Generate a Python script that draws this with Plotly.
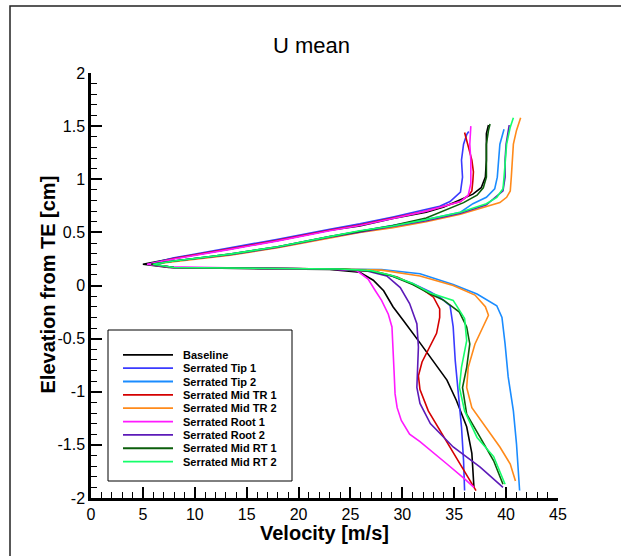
import plotly.graph_objects as go

# ---------------- data ----------------
series_names = ["Baseline", "Serrated Tip 1", "Serrated Tip 2", "Serrated Mid TR 1",
                "Serrated Mid TR 2", "Serrated Root 1", "Serrated Root 2",
                "Serrated Mid RT 1", "Serrated Mid RT 2"]
series_colors = ["#000000", "#3a3aff", "#1a8cff", "#d40000", "#ff8a1a",
                 "#ff1aff", "#5c1ab8", "#0b5e0b", "#14ff6a"]

baseline_u = [36.9, 36.7, 36.2, 35.2, 34.3, 33.0, 31.7, 30.1, 29.1, 28.2, 27.2, 25.9, 23.0, 18.0, 12.0, 7.5, 5.0,
              8.0, 13.4, 18.0, 23.0, 25.9, 29.1, 32.3, 34.0, 35.6, 36.8, 37.6, 38.0, 38.1, 38.1, 38.3]
baseline_y = [-1.90, -1.58, -1.33, -1.08, -0.89, -0.71, -0.54, -0.33, -0.20, -0.05, 0.05, 0.125, 0.15, 0.155, 0.16, 0.17, 0.20,
              0.255, 0.345, 0.425, 0.52, 0.56, 0.63, 0.69, 0.74, 0.81, 0.86, 0.92, 1.02, 1.18, 1.43, 1.51]

tip1_u = [36.0, 35.9, 35.7, 35.4, 35.1, 34.9, 34.6, 33.6, 32.7, 31.0, 29.0, 27.0, 24.0, 18.0, 12.0, 7.8, 5.5,
          8.0, 13.4, 18.0, 23.0, 25.9, 29.1, 32.3, 33.6, 34.6, 35.2, 35.6, 35.8, 35.7, 35.9, 36.2, 36.4]
tip1_y = [-1.93, -1.65, -1.33, -1.02, -0.71, -0.39, -0.19, -0.11, -0.06, 0.02, 0.09, 0.135, 0.155, 0.16, 0.165, 0.17, 0.20,
          0.26, 0.355, 0.435, 0.53, 0.58, 0.645, 0.712, 0.745, 0.79, 0.84, 0.88, 1.02, 1.18, 1.33, 1.42, 1.45]

tip2_u = [41.3, 41.0, 40.7, 40.2, 39.9, 39.6, 39.1, 37.2, 34.9, 31.7, 28.0, 24.0, 18.0, 12.0, 8.0, 5.8,
          8.0, 13.4, 18.0, 23.0, 25.9, 29.1, 32.3, 35.6, 36.8, 38.1, 38.9, 39.15, 39.25, 39.4, 39.8]
tip2_y = [-1.93, -1.49, -1.18, -0.86, -0.55, -0.30, -0.19, -0.08, 0.01, 0.11, 0.15, 0.155, 0.16, 0.165, 0.17, 0.20,
          0.23, 0.295, 0.365, 0.46, 0.51, 0.56, 0.62, 0.69, 0.77, 0.83, 0.91, 1.02, 1.18, 1.33, 1.47]

midtr1_u = [37.1, 35.2, 33.65, 32.5, 31.7, 31.55, 31.9, 32.6, 33.3, 33.6, 33.6, 33.0, 31.7, 29.5, 27.5, 24.0, 18.0, 12.0, 7.8, 5.6,
            8.0, 13.4, 18.0, 23.0, 25.9, 29.1, 32.3, 34.0, 35.6, 36.4, 36.7, 36.8, 36.85, 36.7, 36.35, 36.2, 36.0]
midtr1_y = [-1.93, -1.62, -1.38, -1.18, -0.98, -0.85, -0.72, -0.58, -0.45, -0.30, -0.22, -0.11, -0.02, 0.08, 0.13, 0.155, 0.16, 0.165, 0.17, 0.20,
            0.255, 0.345, 0.425, 0.52, 0.57, 0.635, 0.70, 0.745, 0.79, 0.85, 0.89, 0.99, 1.07, 1.18, 1.30, 1.36, 1.44]

midtr2_u = [40.9, 40.4, 39.4, 37.8, 36.7, 36.2, 36.35, 37.0, 37.8, 38.3, 38.0, 37.0, 34.9, 31.7, 28.0, 24.0, 18.0, 12.0, 8.0, 5.9,
            8.0, 13.4, 18.0, 23.0, 25.9, 29.1, 32.3, 35.6, 38.1, 39.4, 40.05, 40.4, 40.5, 40.6, 40.7, 41.0, 41.4]
midtr2_y = [-1.84, -1.68, -1.52, -1.30, -1.15, -0.96, -0.77, -0.55, -0.39, -0.28, -0.20, -0.09, 0.0, 0.09, 0.145, 0.155, 0.16, 0.165, 0.17, 0.20,
            0.225, 0.285, 0.355, 0.45, 0.50, 0.545, 0.60, 0.67, 0.74, 0.78, 0.83, 0.89, 1.02, 1.18, 1.33, 1.46, 1.58]

root1_u = [36.9, 36.0, 34.3, 32.7, 31.7, 30.7, 29.9, 29.5, 29.3, 29.2, 29.1, 29.0, 28.65, 28.0, 27.4, 26.7, 25.6, 23.0, 18.0, 12.0, 7.6, 5.4,
           8.0, 13.4, 18.0, 23.0, 25.9, 29.1, 32.3, 34.0, 35.6, 36.35, 36.6, 36.6, 36.5, 36.6]
root1_y = [-1.90, -1.82, -1.68, -1.55, -1.47, -1.40, -1.27, -1.15, -1.02, -0.80, -0.58, -0.39, -0.27, -0.14, -0.05, 0.06, 0.14, 0.155, 0.16, 0.165, 0.175, 0.20,
           0.25, 0.34, 0.42, 0.515, 0.565, 0.63, 0.70, 0.745, 0.79, 0.85, 0.96, 1.18, 1.33, 1.50]

root2_u = [39.7, 37.5, 34.9, 32.7, 31.7, 31.4, 31.55, 31.4, 30.7, 29.8, 28.5, 26.5, 23.0, 18.0, 12.0, 8.0, 5.8,
           8.0, 13.4, 18.0, 23.0, 25.9, 29.1, 32.3, 35.6, 38.1, 39.7, 39.9, 39.9, 40.0, 40.3]
root2_y = [-1.90, -1.71, -1.52, -1.30, -1.11, -0.96, -0.58, -0.36, -0.17, -0.02, 0.09, 0.14, 0.155, 0.16, 0.165, 0.17, 0.20,
           0.23, 0.29, 0.36, 0.455, 0.505, 0.555, 0.61, 0.68, 0.76, 0.89, 1.02, 1.18, 1.33, 1.51]

midrt1_u = [39.7, 38.8, 37.5, 36.2, 35.8, 36.2, 36.5, 36.2, 35.5, 34.0, 32.7, 31.0, 29.0, 27.0, 24.0, 18.0, 12.0, 8.0, 5.8,
            8.0, 13.4, 18.0, 23.0, 25.9, 29.1, 32.3, 34.0, 35.9, 37.2, 37.8, 38.1, 38.1, 38.1, 38.3, 38.45]
midrt1_y = [-1.87, -1.65, -1.43, -1.21, -0.96, -0.77, -0.55, -0.39, -0.25, -0.14, -0.08, 0.01, 0.09, 0.135, 0.155, 0.16, 0.165, 0.17, 0.20,
            0.23, 0.295, 0.365, 0.46, 0.51, 0.565, 0.635, 0.70, 0.78, 0.85, 0.92, 1.02, 1.18, 1.33, 1.46, 1.52]

midrt2_u = [39.9, 38.8, 37.2, 36.0, 35.5, 35.7, 36.2, 36.0, 34.9, 32.7, 31.0, 29.0, 27.0, 24.0, 18.0, 12.0, 8.0, 6.0,
            8.0, 13.4, 18.0, 23.0, 25.9, 29.1, 32.3, 35.6, 38.1, 39.1, 39.7, 39.8, 39.9, 40.05, 40.4, 40.7]
midrt2_y = [-1.87, -1.61, -1.43, -1.18, -0.96, -0.77, -0.52, -0.31, -0.14, -0.07, 0.02, 0.095, 0.14, 0.155, 0.16, 0.165, 0.17, 0.20,
            0.23, 0.295, 0.365, 0.46, 0.515, 0.56, 0.62, 0.69, 0.77, 0.83, 0.91, 1.02, 1.18, 1.33, 1.49, 1.58]

series_u = [baseline_u, tip1_u, tip2_u, midtr1_u, midtr2_u, root1_u, root2_u, midrt1_u, midrt2_u]
series_y = [baseline_y, tip1_y, tip2_y, midtr1_y, midtr2_y, root1_y, root2_y, midrt1_y, midrt2_y]

x_tickvals = [0, 5, 10, 15, 20, 25, 30, 35, 40, 45]
x_ticktext = ["0", "5", "10", "15", "20", "25", "30", "35", "40", "45"]
y_tickvals = [-2, -1.5, -1, -0.5, 0, 0.5, 1, 1.5, 2]
y_ticktext = ["-2", "-1.5", "-1", "-0.5", "0", "0.5", "1", "1.5", "2"]

# ---------------- figure ----------------
FONT = "Arial, Liberation Sans, Helvetica, sans-serif"
W, H = 621, 556
L, R, T, B = 91, 63, 73, 58
PW, PH = W - L - R, H - T - B

def px_x(p):
    return (p - L) / PW

def px_y(p):
    return (H - B - p) / PH

fig = go.Figure()
for name, col, u, y in zip(series_names, series_colors, series_u, series_y):
    fig.add_trace(go.Scatter(x=u, y=y, mode="lines", name=name,
                             line=dict(color=col, width=1.6), showlegend=False))

shapes = []
annotations = []

# outer frame
shapes.append(dict(type="rect", xref="paper", yref="paper",
                   x0=px_x(10), x1=px_x(660), y0=px_y(6), y1=px_y(600),
                   line=dict(color="#222222", width=1.5), layer="above"))

# legend box
shapes.append(dict(type="rect", xref="paper", yref="paper",
                   x0=px_x(108), x1=px_x(292), y0=px_y(330), y1=px_y(481),
                   line=dict(color="#000000", width=1), fillcolor="white", layer="above"))
for i, (name, col) in enumerate(zip(series_names, series_colors)):
    yy = px_y(354.8 + i * 13.35)
    shapes.append(dict(type="line", xref="paper", yref="paper",
                       x0=px_x(123), x1=px_x(173), y0=yy, y1=yy,
                       line=dict(color=col, width=1.8), layer="above"))
    annotations.append(dict(xref="paper", yref="paper", x=px_x(181), y=yy,
                            text="<b>%s</b>" % name, showarrow=False,
                            xanchor="left", yanchor="middle",
                            font=dict(family=FONT, size=11, color="#000000")))

# axis titles
annotations.append(dict(xref="paper", yref="paper", x=px_x(324.5), y=px_y(533),
                        text="<b>Velocity [m/s]</b>", showarrow=False,
                        xanchor="center", yanchor="middle",
                        font=dict(family=FONT, size=20, color="#000000")))
annotations.append(dict(xref="paper", yref="paper", x=px_x(47.5), y=px_y(285),
                        text="<b>Elevation from TE [cm]</b>", showarrow=False,
                        textangle=-90, xanchor="center", yanchor="middle",
                        font=dict(family=FONT, size=20, color="#000000")))

fig.update_layout(
    width=W, height=H,
    margin=dict(l=L, r=R, t=T, b=B, autoexpand=False),
    paper_bgcolor="white", plot_bgcolor="white",
    title=dict(text="U mean", x=px_x(311.5), xref="paper", xanchor="center",
               y=1 - 45 / H, yref="container", yanchor="middle",
               font=dict(family=FONT, size=22, color="#000000")),
    showlegend=False,
    shapes=shapes,
    annotations=annotations,
    xaxis=dict(range=[0, 45], tickvals=x_tickvals, ticktext=x_ticktext,
               ticks="inside", ticklen=11, tickwidth=2, tickcolor="#000000",
               minor=dict(dtick=1, ticks="inside", ticklen=6, tickwidth=1.2, tickcolor="#000000"),
               showline=True, linewidth=2.5, linecolor="#000000", mirror=False,
               showgrid=False, zeroline=False, automargin=False,
               tickfont=dict(family=FONT, size=16, color="#000000")),
    yaxis=dict(range=[-2, 2], tickvals=y_tickvals, ticktext=y_ticktext,
               ticks="inside", ticklen=11, tickwidth=2, tickcolor="#000000",
               minor=dict(dtick=0.1, ticks="inside", ticklen=6, tickwidth=1.2, tickcolor="#000000"),
               showline=True, linewidth=2.5, linecolor="#000000", mirror=False,
               showgrid=False, zeroline=False, automargin=False,
               tickfont=dict(family=FONT, size=16, color="#000000")),
)

fig.write_html("out.html")
